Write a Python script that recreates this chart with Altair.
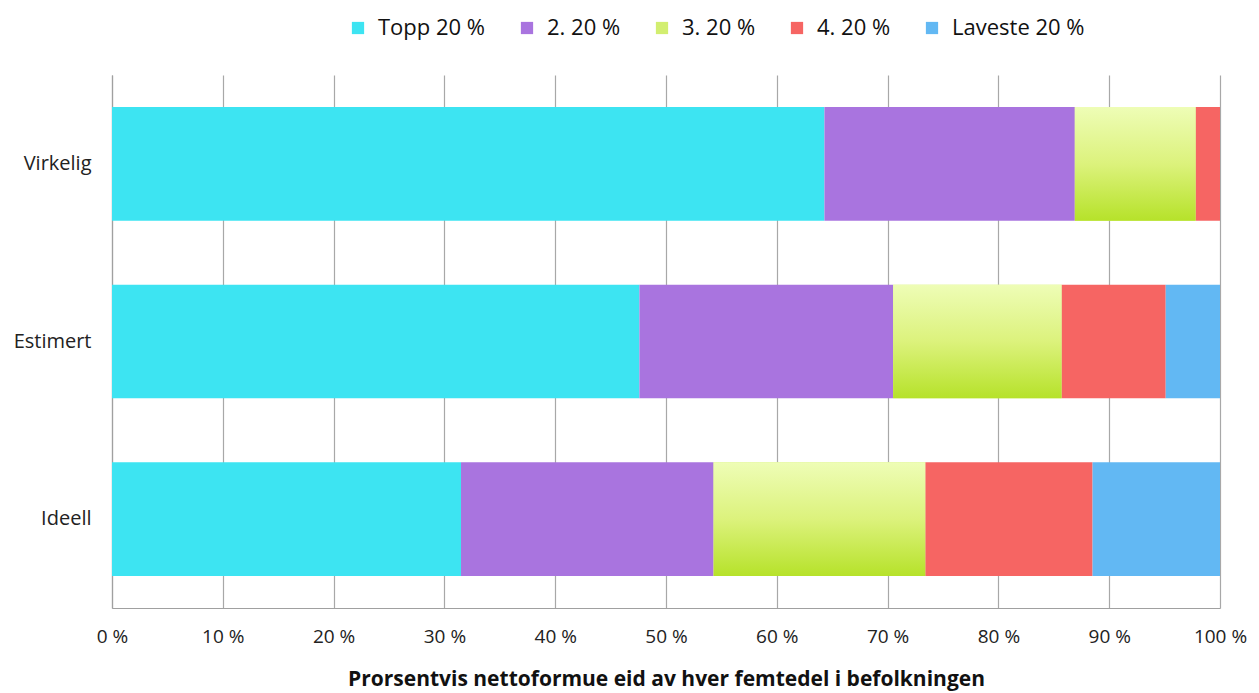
import altair as alt
import pandas as pd

categories = ["Virkelig", "Estimert", "Ideell"]
segments = ["Topp 20 %", "2. 20 %", "3. 20 %", "4. 20 %", "Laveste 20 %"]
virkelig = [64.3, 22.6, 10.9, 2.2, 0.0]
estimert = [47.6, 22.9, 15.2, 9.4, 4.9]
ideell = [31.5, 22.8, 19.1, 15.1, 11.5]
colors = ["#3de4f2", "#a974df", "#d2ee70", "#f66563", "#62b8f3"]

rows = []
for cat, vals in zip(categories, [virkelig, estimert, ideell]):
    for i, (seg, v) in enumerate(zip(segments, vals)):
        rows.append({"cat": cat, "seg": seg, "order": i, "value": v})
df = pd.DataFrame(rows)

font = "Open Sans"
grad = alt.Gradient(
    gradient="linear", x1=0, y1=0, x2=0, y2=1,
    stops=[alt.GradientStop(color="#eefdb6", offset=0),
           alt.GradientStop(color="#dcf27c", offset=0.5),
           alt.GradientStop(color="#b6e22a", offset=1)],
)

base = alt.Chart(df).transform_stack(
    stack="value", groupby=["cat"], as_=["x0", "x1"], sort=[alt.SortField("order")]
)

yenc = alt.Y("cat:N", sort=categories, scale=alt.Scale(paddingInner=0.36, paddingOuter=0.18),
             axis=alt.Axis(title=None, ticks=False, labelPadding=21, labelFontSize=20,
                           labelFont=font, labelColor="#222", domainColor="#a0a0a0",
                           grid=False))
xenc = alt.X("x0:Q", scale=alt.Scale(domain=[0, 100], nice=False),
             axis=alt.Axis(values=list(range(0, 101, 10)), ticks=False, labelFlush=False,
                           labelExpr="datum.value + ' %'", labelFontSize=19, labelFont=font,
                           labelColor="#222", labelPadding=19, domainColor="#a0a0a0",
                           gridColor="#a8a8a8", gridWidth=1.2,
                           title="Prorsentvis nettoformue eid av hver femtedel i befolkningen",
                           titleFont=font, titleFontSize=21, titleFontWeight="bold",
                           titleColor="#111", titlePadding=22))

bars = base.mark_bar().encode(
    y=yenc, x=xenc, x2="x1:Q",
    color=alt.Color("seg:N", sort=segments,
                    scale=alt.Scale(domain=segments, range=colors),
                    legend=alt.Legend(title=None, orient="none", direction="horizontal",
                                      legendX=235, legendY=-58, symbolType="square",
                                      symbolSize=150, symbolStrokeWidth=0,
                                      labelFontSize=22, labelFont=font, labelColor="#111",
                                      columnPadding=30, labelOffset=9)),
)

third = base.transform_filter(alt.datum.seg == "3. 20 %").mark_bar(color=grad).encode(
    y=alt.Y("cat:N", sort=categories), x="x0:Q", x2="x1:Q"
)

chart = alt.layer(bars, third).properties(
    width=1108, height=533,
    autosize=alt.AutoSizeParams(type="none"),
    padding={"left": 104, "top": 67, "right": 30, "bottom": 85},
).configure_view(stroke=None).configure_axis(domainWidth=1.2)

chart.save("out.html", embed_options={"renderer": "svg", "actions": False})
